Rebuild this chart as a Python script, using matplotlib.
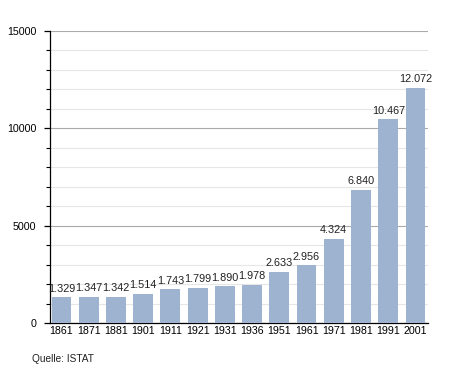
import matplotlib
matplotlib.use("Agg")
import matplotlib.pyplot as plt
from matplotlib.ticker import MultipleLocator

plt.rcParams['font.family'] = ['Liberation Sans', 'DejaVu Sans']

# Daten
years = ["1861", "1871", "1881", "1901", "1911", "1921", "1931", "1936",
         "1951", "1961", "1971", "1981", "1991", "2001"]
population = [1329, 1347, 1342, 1514, 1743, 1799, 1890, 1978,
              2633, 2956, 4324, 6840, 10467, 12072]
labels = ["1.329", "1.347", "1.342", "1.514", "1.743", "1.799", "1.890", "1.978",
          "2.633", "2.956", "4.324", "6.840", "10.467", "12.072"]

fig = plt.figure(figsize=(4.55, 3.73), dpi=100)
ax = fig.add_axes([0.11, 0.134, 0.83, 0.783])

x = range(len(years))
bars = ax.bar(x, population, width=0.73, color="#9db3cf", zorder=3)

for bar, lab in zip(bars, labels):
    ax.text(bar.get_x() + bar.get_width() / 2, bar.get_height() + 180, lab,
            ha='center', va='bottom', fontsize=7.8, color='#222222')

ax.set_xlim(-0.42, 13.45)
ax.set_ylim(0, 15000)
ax.set_xticks(list(x))
ax.set_xticklabels(years, fontsize=7.7)
ax.set_yticks([0, 5000, 10000, 15000])
ax.set_yticklabels(["0", "5000", "10000", "15000"], fontsize=7.7)
ax.yaxis.set_minor_locator(MultipleLocator(1000))

# Gitternetz
ax.grid(axis='y', which='major', color='#aaaaaa', linewidth=0.8, zorder=0)
ax.grid(axis='y', which='minor', color='#e6e6e6', linewidth=0.8, zorder=0)

for s in ['top', 'right']:
    ax.spines[s].set_visible(False)
ax.spines['left'].set_linewidth(0.9)
ax.spines['bottom'].set_linewidth(0.9)
ax.tick_params(axis='x', length=0, pad=2)
ax.tick_params(axis='y', which='major', length=4, width=0.9, pad=6)
ax.tick_params(axis='y', which='minor', length=3, width=0.8)

fig.text(0.07, 0.03, "Quelle: ISTAT", fontsize=7.3, color='#222222')

fig.savefig("out.png", dpi=100)
